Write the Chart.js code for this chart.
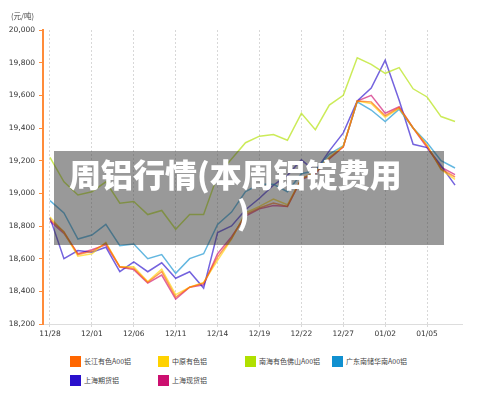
<!DOCTYPE html>
<html>
<head>
<meta charset="utf-8">
<script src="https://cdn.jsdelivr.net/npm/chart.js@4/dist/chart.umd.min.js"></script>
<style>
  body { margin: 0; background: #fff; width: 500px; height: 397px; overflow: hidden; position: relative; font-family: "DejaVu Sans", "Noto Sans CJK SC", sans-serif; }
  #wrap { position: absolute; left: 0; top: 0; width: 500px; height: 345px; }
  #unit { position: absolute; left: 11px; top: 10px; font-size: 7.5px; color: #444; font-family: "Noto Sans CJK SC", sans-serif; }
  #banner { position: absolute; left: 54px; top: 151px; width: 390px; height: 94px; box-sizing: border-box; padding-top: 3px;
            background: rgba(51,51,51,0.5); color: #fff; font-family: "Noto Sans CJK SC", sans-serif; font-weight: 900; font-size: 32px; line-height: 38px; white-space: nowrap; }
  #banner .l1 { padding-left: 15px; }
  #banner .l2 { padding-left: 183px; }
  #legend { position: absolute; left: 70px; top: 355px; display: grid; grid-template-columns: 88px 87px 87px 110px; row-gap: 7px; }
  .item { display: flex; align-items: center; font-size: 7px; color: #444; font-family: "Noto Sans CJK SC", sans-serif; white-space: nowrap; height: 12px; }
  .box { width: 11px; height: 11px; margin-right: 3px; }
</style>
</head>
<body>
<div id="wrap"><canvas id="lineChart" width="500" height="345"></canvas></div>
<div id="unit">(元/吨)</div>
<div id="banner"><div class="l1">周铝行情(本周铝锭费用</div><div class="l2">)</div></div>
<div id="legend"></div>

<script>
/* ---------- DATA ---------- */

const dates = [
  "11/28", "11/29", "11/30", "12/01", "12/04", "12/05", "12/06", "12/07", "12/08", "12/11",
  "12/12", "12/13", "12/14", "12/15", "12/18", "12/19", "12/20", "12/21", "12/22", "12/25",
  "12/26", "12/27", "12/28", "12/29", "01/02", "01/03", "01/04", "01/05", "01/08", "01/09"
];

const seriesNames = ["长江有色A00铝", "中原有色铝", "南海有色佛山A00铝", "广东南储华南A00铝", "上海期货铝", "上海现货铝"];
const seriesColors = ["#ff6600", "#ffd200", "#b0e000", "#1090d0", "#2a10cc", "#cc1070"];

const changjiang = [18840, 18765, 18625, 18645, 18695, 18550, 18540, 18455, 18520, 18365,
                    18425, 18450, 18610, 18725, 18870, 18910, 18940, 18920, 19090, 19125,
                    19215, 19285, 19565, 19560, 19475, 19525, 19400, 19290, 19150, 19100];
const zhongyuan  = [18855, 18760, 18615, 18630, 18700, 18550, 18550, 18460, 18535, 18380,
                    18425, 18455, 18590, 18720, 18880, 18920, 18965, 18930, 19090, 19130,
                    19220, 19290, 19565, 19550, 19465, 19520, 19400, 19295, 19145, 19085];
const nanhai     = [19220, 19070, 18990, 19010, 19070, 18940, 18950, 18870, 18895, 18780,
                    18870, 18870, 19110, 19210, 19310, 19350, 19360, 19325, 19490, 19390,
                    19540, 19600, 19830, 19790, 19735, 19770, 19640, 19590, 19470, 19440];
const guangdong  = [18955, 18880, 18720, 18745, 18810, 18680, 18690, 18600, 18625, 18510,
                    18600, 18630, 18810, 18885, 19010, 19055, 19055, 19010, 19120, 19140,
                    19240, 19290, 19560, 19510, 19440, 19515, 19400, 19310, 19200, 19155];
const shfe       = [18850, 18600, 18650, 18640, 18670, 18520, 18580, 18520, 18575, 18480,
                    18520, 18420, 18760, 18800, 18900, 18970, 19050, 19110, 19205, 19135,
                    19260, 19370, 19565, 19645, 19815, 19570, 19300, 19280, 19170, 19050];
const shspot     = [18830, 18755, 18630, 18655, 18685, 18548, 18533, 18450, 18500, 18353,
                    18425, 18440, 18630, 18735, 18860, 18905, 18925, 18920, 19085, 19120,
                    19210, 19285, 19565, 19600, 19490, 19530, 19400, 19280, 19160, 19115];

const allSeries = [changjiang, zhongyuan, nanhai, guangdong, shfe, shspot];

const yMin = 18200;
const yMax = 20000;
const yStep = 200;

/* ---------- HELPERS ---------- */

function fade(hex, a) {
  const n = parseInt(hex.slice(1), 16);
  return "rgba(" + (n >> 16) + "," + ((n >> 8) & 255) + "," + (n & 255) + "," + a + ")";
}

const tickFont = { family: "DejaVu Sans", size: 7.5 };

/* ---------- CHART ---------- */

const ctx = document.getElementById("lineChart").getContext("2d");

new Chart(ctx, {
  type: "line",
  data: {
    labels: dates,
    datasets: allSeries.map((data, i) => ({
      label: seriesNames[i],
      data,
      borderColor: fade(seriesColors[i], 0.65),
      backgroundColor: seriesColors[i],
      borderWidth: 1.5,
      pointRadius: 0,
      tension: 0,
      fill: false
    }))
  },
  options: {
    responsive: false,
    animation: false,
    layout: { padding: { top: 30, right: 38, left: 0, bottom: 0 } },
    plugins: {
      legend: { display: false },
      tooltip: { enabled: false }
    },
    scales: {
      x: {
        offset: true,
        grid: {
          offset: false,
          color: c => (c.index % 3 === 0 ? "#d8d8d8" : "rgba(0,0,0,0)"),
          tickLength: 3
        },
        border: { color: "#dddddd", dash: [2, 2] },
        ticks: {
          autoSkip: false,
          maxRotation: 0,
          padding: 3,
          color: "#333",
          font: tickFont,
          callback: (v, i) => (i % 3 === 0 ? dates[i] : "")
        },
        afterFit: s => { s.height = 21; }
      },
      y: {
        min: yMin,
        max: yMax,
        grid: { drawOnChartArea: false, color: "#ff8c3a", tickLength: 4 },
        border: { color: "#ff8c3a", width: 2 },
        ticks: { stepSize: yStep, padding: 4, color: "#333", font: tickFont },
        afterFit: s => { s.width = 43; }
      }
    }
  }
});

/* ---------- LEGEND ---------- */

const legend = document.getElementById("legend");
seriesNames.forEach((name, i) => {
  const item = document.createElement("div");
  item.className = "item";
  item.innerHTML = '<span class="box" style="background:' + seriesColors[i] + '"></span>' + name;
  legend.appendChild(item);
});
</script>
</body>
</html>
